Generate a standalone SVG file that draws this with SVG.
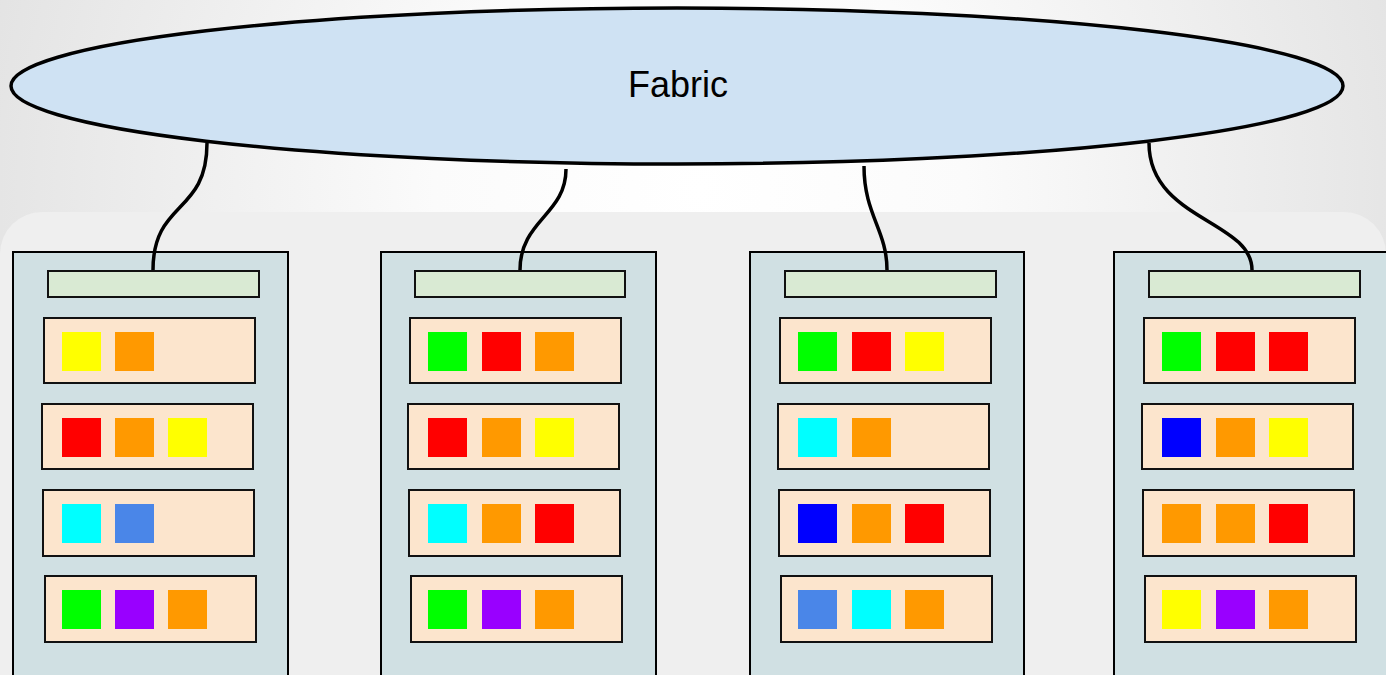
<svg xmlns="http://www.w3.org/2000/svg" width="1386" height="675" viewBox="0 0 1386 675">
<defs>
<radialGradient id="bg" cx="700" cy="190" r="760" gradientUnits="userSpaceOnUse">
<stop offset="0" stop-color="#ffffff"/>
<stop offset="0.35" stop-color="#fbfbfb"/>
<stop offset="1" stop-color="#e2e2e2"/>
</radialGradient>
<style>
.rack{fill:#d0e0e3;stroke:#000;stroke-width:2}
.nic{fill:#d9ead3;stroke:#111;stroke-width:2}
.srv{fill:#fce5cd;stroke:#111;stroke-width:2}
.link{fill:none;stroke:#000;stroke-width:3.5}
.Y{fill:#ffff00}.O{fill:#ff9900}.R{fill:#ff0000}.G{fill:#00ff00}.C{fill:#00ffff}.CB{fill:#4a86e8}.P{fill:#9900ff}.B{fill:#0000ff}
</style>
</defs>
<rect x="0" y="0" width="1386" height="675" fill="url(#bg)"/>
<rect x="0" y="212" width="1386" height="520" rx="42" fill="#efefef"/>

<g id="fabric">
<ellipse cx="677" cy="86" rx="666" ry="78" fill="#cfe2f3" stroke="#000" stroke-width="3.5"/>
<text x="678" y="97" font-family="Liberation Sans, Arial, sans-serif" font-size="36" text-anchor="middle" fill="#000">Fabric</text>
</g>

<g id="rack1">
<rect class="rack" x="13" y="252" width="275" height="430"/>
<rect class="nic" x="48" y="271" width="211" height="26"/>
<rect class="srv" x="44" y="318" width="211" height="65"/>
<rect class="Y" x="62" y="332" width="39" height="39"/><rect class="O" x="115" y="332" width="39" height="39"/>
<rect class="srv" x="42" y="404" width="211" height="65"/>
<rect class="R" x="62" y="418" width="39" height="39"/><rect class="O" x="115" y="418" width="39" height="39"/><rect class="Y" x="168" y="418" width="39" height="39"/>
<rect class="srv" x="43" y="490" width="211" height="66"/>
<rect class="C" x="62" y="504" width="39" height="39"/><rect class="CB" x="115" y="504" width="39" height="39"/>
<rect class="srv" x="45" y="576" width="211" height="66"/>
<rect class="G" x="62" y="590" width="39" height="39"/><rect class="P" x="115" y="590" width="39" height="39"/><rect class="O" x="168" y="590" width="39" height="39"/>
</g>

<g id="rack2">
<rect class="rack" x="381" y="252" width="275" height="430"/>
<rect class="nic" x="415" y="271" width="210" height="26"/>
<rect class="srv" x="410" y="318" width="211" height="65"/>
<rect class="G" x="428" y="332" width="39" height="39"/><rect class="R" x="482" y="332" width="39" height="39"/><rect class="O" x="535" y="332" width="39" height="39"/>
<rect class="srv" x="408" y="404" width="211" height="65"/>
<rect class="R" x="428" y="418" width="39" height="39"/><rect class="O" x="482" y="418" width="39" height="39"/><rect class="Y" x="535" y="418" width="39" height="39"/>
<rect class="srv" x="409" y="490" width="211" height="66"/>
<rect class="C" x="428" y="504" width="39" height="39"/><rect class="O" x="482" y="504" width="39" height="39"/><rect class="R" x="535" y="504" width="39" height="39"/>
<rect class="srv" x="411" y="576" width="211" height="66"/>
<rect class="G" x="428" y="590" width="39" height="39"/><rect class="P" x="482" y="590" width="39" height="39"/><rect class="O" x="535" y="590" width="39" height="39"/>
</g>

<g id="rack3">
<rect class="rack" x="750" y="252" width="274" height="430"/>
<rect class="nic" x="785" y="271" width="211" height="26"/>
<rect class="srv" x="780" y="318" width="211" height="65"/>
<rect class="G" x="798" y="332" width="39" height="39"/><rect class="R" x="852" y="332" width="39" height="39"/><rect class="Y" x="905" y="332" width="39" height="39"/>
<rect class="srv" x="778" y="404" width="211" height="65"/>
<rect class="C" x="798" y="418" width="39" height="39"/><rect class="O" x="852" y="418" width="39" height="39"/>
<rect class="srv" x="779" y="490" width="211" height="66"/>
<rect class="B" x="798" y="504" width="39" height="39"/><rect class="O" x="852" y="504" width="39" height="39"/><rect class="R" x="905" y="504" width="39" height="39"/>
<rect class="srv" x="781" y="576" width="211" height="66"/>
<rect class="CB" x="798" y="590" width="39" height="39"/><rect class="C" x="852" y="590" width="39" height="39"/><rect class="O" x="905" y="590" width="39" height="39"/>
</g>

<g id="rack4">
<rect class="rack" x="1114" y="252" width="290" height="430"/>
<rect class="nic" x="1149" y="271" width="211" height="26"/>
<rect class="srv" x="1144" y="318" width="211" height="65"/>
<rect class="G" x="1162" y="332" width="39" height="39"/><rect class="R" x="1216" y="332" width="39" height="39"/><rect class="R" x="1269" y="332" width="39" height="39"/>
<rect class="srv" x="1142" y="404" width="211" height="65"/>
<rect class="B" x="1162" y="418" width="39" height="39"/><rect class="O" x="1216" y="418" width="39" height="39"/><rect class="Y" x="1269" y="418" width="39" height="39"/>
<rect class="srv" x="1143" y="490" width="211" height="66"/>
<rect class="O" x="1162" y="504" width="39" height="39"/><rect class="O" x="1216" y="504" width="39" height="39"/><rect class="R" x="1269" y="504" width="39" height="39"/>
<rect class="srv" x="1145" y="576" width="211" height="66"/>
<rect class="Y" x="1162" y="590" width="39" height="39"/><rect class="P" x="1216" y="590" width="39" height="39"/><rect class="O" x="1269" y="590" width="39" height="39"/>
</g>

<g id="connectors">
<path class="link" d="M207,143 C207,215 153,200 153,270"/>
<path class="link" d="M566,169 C566,215 520,220 520,270"/>
<path class="link" d="M864,166 C864,215 887,230 887,270"/>
<path class="link" d="M1149,143 C1149,220 1252,220 1252,270"/>
</g>
</svg>
